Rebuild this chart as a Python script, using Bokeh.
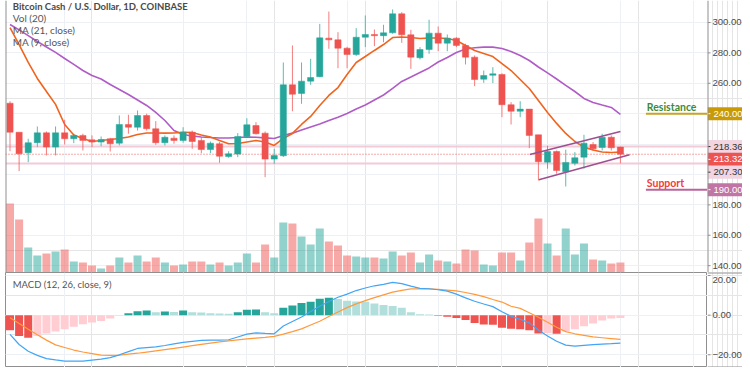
from bokeh.plotting import figure
from bokeh.layouts import column, row
from bokeh.models import Range1d, FixedTicker, Grid, Label, Span, ColumnDataSource
from bokeh.core.properties import value
from bokeh.embed import file_html
from bokeh.resources import INLINE

# ---------------- data ----------------
opens = [246.9, 227.8, 214.3, 220.9, 227.4, 218.0, 227.4, 223.5, 225.7, 222.8,
         221.3, 223.5, 220.6, 232.9, 231.1, 238.8, 230.1, 220.9, 223.9, 222.4,
         227.8, 222.4, 216.4, 220.2, 211.8, 213.4, 225.0, 232.2, 227.2, 210.1,
         212.3, 259.0, 253.3, 261.4, 264.3, 289.7, 288.6, 283.1, 278.9, 290.3,
         292.1, 291.3, 293.2, 305.7, 291.9, 276.8, 282.2, 293.0, 286.4, 289.7,
         284.9, 277.2, 262.7, 265.3, 265.8, 245.9, 241.6, 243.0, 226.1, 208.1,
         215.1, 201.8, 207.4, 211.4, 219.7, 217.8, 224.5, 218.0]
highs = [248.2, 227.8, 223.5, 231.6, 228.3, 231.6, 236.0, 226.8, 226.8, 225.7,
         225.0, 224.1, 238.8, 239.3, 242.1, 240.0, 235.1, 225.7, 225.7, 231.1,
         228.9, 224.5, 221.7, 221.3, 215.3, 227.2, 237.0, 234.4, 228.3, 216.9,
         273.7, 284.9, 273.7, 276.1, 299.1, 307.2, 293.6, 284.0, 296.3, 304.6,
         295.4, 298.5, 308.6, 306.8, 295.2, 283.8, 301.8, 297.4, 292.1, 290.3,
         286.0, 278.3, 268.4, 270.6, 266.6, 247.6, 248.2, 243.0, 226.1, 218.9,
         215.8, 216.3, 214.7, 226.1, 221.3, 226.8, 225.7, 218.36]
lows = [215.3, 202.2, 208.1, 218.0, 212.5, 212.5, 219.7, 220.6, 215.8, 218.0,
        218.6, 215.1, 219.1, 226.8, 228.9, 228.9, 219.5, 219.1, 220.2, 220.9,
        216.9, 214.0, 214.0, 207.7, 211.0, 211.4, 224.5, 226.3, 198.2, 207.0,
        211.5, 241.6, 246.5, 259.0, 264.0, 282.7, 269.9, 269.9, 278.0, 283.8,
        284.4, 287.0, 292.6, 286.6, 269.5, 275.7, 279.4, 281.1, 281.1, 283.8,
        272.4, 258.1, 260.3, 260.1, 237.7, 232.9, 237.7, 217.3, 196.0, 203.8,
        200.5, 192.1, 205.9, 203.8, 215.8, 215.8, 215.8, 207.30]
closes = [227.8, 213.6, 220.9, 227.4, 218.0, 227.4, 223.5, 225.7, 222.4, 221.3,
          223.0, 220.2, 232.9, 231.1, 238.8, 230.1, 220.9, 224.5, 222.4, 227.8,
          221.7, 216.4, 220.6, 212.0, 213.6, 225.0, 232.7, 226.8, 210.1, 212.5,
          259.0, 252.8, 261.4, 263.8, 289.9, 288.6, 283.1, 278.9, 290.3, 292.1,
          291.3, 293.2, 305.7, 291.9, 277.2, 282.2, 293.0, 286.4, 289.7, 284.9,
          277.2, 262.5, 265.1, 266.2, 245.9, 241.6, 243.0, 225.7, 208.4, 215.1,
          202.6, 207.9, 211.0, 220.6, 216.9, 224.5, 217.6, 213.32]
volumes = [69, 53, 25, 17, 19, 21, 23, 11, 10, 7,
           4, 7, 15, 10, 17, 11, 15, 10, 7, 8,
           11, 11, 8, 10, 7, 10, 19, 10, 28, 15,
           50, 49, 36, 28, 44, 31, 27, 17, 16, 15,
           15, 14, 21, 17, 20, 10, 18, 12, 11, 9,
           23, 22, 8, 7, 20, 20, 12, 30, 54, 29,
           17, 44, 18, 29, 13, 12, 9, 10]
ma9 = [296.7, 285.5, 273.7, 263.2, 254.6, 246.1, 232.9, 226.0, 223.7, 221.7,
       222.4, 223.0, 223.7, 224.7, 226.3, 227.3, 227.3, 227.2, 227.3, 227.8,
       227.6, 226.0, 224.7, 222.4, 220.2, 220.4, 221.4, 222.4, 221.4, 219.1,
       223.7, 227.0, 232.9, 238.2, 245.4, 252.0, 257.2, 265.8, 273.7, 277.6,
       281.6, 285.5, 290.1, 290.5, 290.1, 289.5, 289.8, 289.8, 289.5, 288.2,
       284.9, 281.6, 279.6, 277.6, 273.0, 268.4, 262.5, 256.6, 248.7, 240.8,
       233.6, 227.0, 221.7, 218.0, 216.1, 214.8, 214.5, 214.8]
ma21 = [298.7, 295.1, 291.4, 287.5, 283.9, 280.3, 276.3, 272.4, 268.4, 265.1,
        262.8, 259.2, 255.9, 252.6, 249.0, 245.4, 240.8, 235.5, 228.9, 226.3,
        225.3, 224.7, 224.3, 224.0, 224.0, 224.3, 224.7, 224.5, 224.1, 223.7,
        225.7, 227.2, 229.3, 231.3, 233.2, 235.5, 237.7, 240.1, 243.1, 245.7,
        249.0, 252.3, 256.6, 261.2, 264.1, 267.1, 270.1, 274.0, 277.0, 280.3,
        282.6, 283.4, 283.8, 283.8, 282.9, 280.9, 278.3, 275.0, 270.7, 266.8,
        262.8, 258.6, 254.6, 250.0, 247.4, 245.7, 244.1, 239.5]
macd_line = [-9.7, -14.8, -18.2, -20.3, -21.9, -22.6, -23.2, -23.2, -23.2, -22.7,
             -22.2, -21.4, -20.0, -18.4, -16.8, -16.4, -16.0, -15.3, -14.5, -13.7,
             -13.2, -12.7, -12.6, -12.6, -12.4, -11.0, -9.6, -8.9, -9.2, -9.4,
             -5.5, -3.2, -0.9, 1.8, 4.5, 6.9, 9.0, 10.6, 12.4, 13.7,
             14.8, 15.5, 16.5, 15.9, 14.6, 13.5, 13.3, 12.8, 12.1, 10.6,
             8.7, 7.0, 5.6, 4.3, 1.7, -0.6, -2.1, -3.9, -7.5, -10.5,
             -13.2, -15.1, -15.6, -15.2, -14.9, -14.6, -14.4, -14.1]
signal_line = [-1.3, -4.2, -7.1, -9.9, -12.6, -15.0, -16.3, -17.6, -18.6, -19.4,
               -20.2, -20.3, -20.2, -19.7, -19.2, -18.6, -18.0, -17.4, -16.8, -16.1,
               -15.4, -14.7, -14.1, -13.5, -13.0, -12.5, -12.0, -11.6, -11.2, -10.7,
               -9.6, -8.3, -6.9, -5.0, -3.1, -0.7, 1.6, 3.8, 5.7, 7.3,
               8.8, 10.2, 11.6, 12.5, 13.2, 13.2, 13.2, 13.0, 12.6, 12.2,
               11.4, 10.5, 9.3, 7.9, 6.6, 4.5, 3.4, 1.2, -1.1, -3.6,
               -6.1, -8.3, -9.4, -10.2, -11.0, -11.4, -11.8, -12.2]
macd_hist = [-7.6, -10.5, -11.4, -10.5, -9.3, -8.3, -7.1, -5.9, -4.6, -3.7,
             -2.9, -1.7, -0.3, 0.9, 2.0, 2.4, 1.5, 1.8, 1.6, 2.4,
             1.4, 1.3, 1.0, 0.8, 0.7, 1.4, 2.7, 2.8, 1.4, 1.0,
             3.7, 4.9, 6.1, 6.8, 8.3, 8.8, 8.1, 7.3, 6.9, 6.8,
             5.9, 5.1, 4.6, 3.7, 1.4, 0.5, 0.3, -0.3, -0.8, -1.4,
             -2.5, -3.9, -4.7, -4.8, -6.4, -6.8, -7.1, -7.6, -9.3, -9.0,
             -9.4, -8.1, -7.1, -5.6, -4.2, -2.7, -1.7, -1.4]

date_ticks = [7, 20, 27, 38, 48, 55, 68, 76]
price_grid_ticks = [140, 160, 180, 200, 220, 240, 260, 280, 300]
price_axis_ticks = [140, 160, 180, 260, 280, 300]
macd_ticks = [-20, 0, 20]

last_high = 218.36
last_close = 213.32
last_low = 207.30
resistance = 240.0
support = 190.0
channel_upper_x = [58.06, 68.0]
channel_upper_y = [213.2, 228.3]
channel_lower_x = [59.05, 69.0]
channel_lower_y = [196.5, 213.0]

# ---------------- styling ----------------
GREEN = "#26a69a"
RED = "#ef5350"
GRID = "#edf1f6"
AXIS = "#8f8f8f"
LABEL_FONT = "Liberation Sans"
TEXT_FONT = "Lato"
AX_W = 35            # width of the price-scale strip
P_H, M_H = 272, 95   # pane heights

n = len(closes)
xs = list(range(1, n + 1))
colors = [GREEN if c >= o else RED for o, c in zip(opens, closes)]
src = ColumnDataSource(dict(
    x=xs, o=opens, h=highs, l=lows, c=closes,
    top=[max(o, c) for o, c in zip(opens, closes)],
    bottom=[min(o, c) for o, c in zip(opens, closes)],
    color=colors, vol=volumes, ma9=ma9, ma21=ma21,
))

hist_colors = []
prev = 0.0
for v in macd_hist:
    if v >= 0:
        hist_colors.append("#26a69a" if v > prev else "#b2dfdb")
    else:
        hist_colors.append("#ef5350" if v < prev else "#ffcdd2")
    prev = v
msrc = ColumnDataSource(dict(x=xs, m=macd_line, s=signal_line, h=macd_hist, color=hist_colors))

X_START, X_END = 0.506, 77.56
x_range = Range1d(X_START, X_END)
price_range = Range1d(135.5, 314.47)
macd_range = Range1d(-26.4, 21.5)


def base_fig(w, h, xr, yr, **kw):
    f = figure(width=w, height=h, x_range=xr, y_range=yr, output_backend="svg",
               toolbar_location=None, x_axis_location=None, y_axis_location=None,
               min_border_left=0, min_border_right=0, min_border_top=0, min_border_bottom=0,
               background_fill_color="white", border_fill_color="white", **kw)
    return f


# ---------------- price pane ----------------
p = base_fig(707, P_H, x_range, price_range, outline_line_color=None)
p.min_border_left = 5
p.add_layout(Grid(dimension=1, ticker=FixedTicker(ticks=price_grid_ticks), grid_line_color=GRID))
p.add_layout(Grid(dimension=0, ticker=FixedTicker(ticks=date_ticks), grid_line_color=GRID))
p.add_layout(Span(location=X_START, dimension="height", line_color=AXIS, line_width=2))

p.extra_y_ranges = {"vol": Range1d(0, P_H)}
p.vbar(x="x", width=0.88, top="vol", bottom=0, y_range_name="vol", source=src,
       fill_color="color", fill_alpha=0.5, line_color=None)

for lvl in (last_high, last_low):
    p.add_layout(Span(location=lvl, dimension="width", line_color="#f5cad7",
                      line_width=2, level="underlay"))
p.add_layout(Span(location=last_close, dimension="width", line_color=RED,
                  line_width=1, line_dash="1 2", level="underlay"))

p.line("x", "ma21", source=src, line_color="#b05cc6", line_width=1.6)
p.line("x", "ma9", source=src, line_color="#f0641e", line_width=1.6)

p.segment(x0="x", y0="h", x1="x", y1="l", source=src, line_color="color",
          line_width=1, line_alpha=0.75)
p.vbar(x="x", width=0.68, top="top", bottom="bottom", source=src,
       fill_color="color", line_color="color", line_width=0.5)

p.segment(x0=[channel_upper_x[0], channel_lower_x[0]], y0=[channel_upper_y[0], channel_lower_y[0]],
          x1=[channel_upper_x[1], channel_lower_x[1]], y1=[channel_upper_y[1], channel_lower_y[1]],
          line_color="#9e4f8f", line_width=1.6)

p.segment(x0=[70.8], y0=[resistance], x1=[X_END], y1=[resistance], line_color="#c9a227", line_width=2)
p.segment(x0=[70.8], y0=[support], x1=[X_END], y1=[support], line_color="#b8659c", line_width=2)
p.add_layout(Label(x=70.9, y=244.1, text="Resistance", text_font=TEXT_FONT, text_font_size="10.5px",
                   text_font_style="bold", text_color="#3f8a35", text_baseline="middle"))
p.add_layout(Label(x=70.9, y=194.1, text="Support", text_font=TEXT_FONT, text_font_size="10.5px",
                   text_font_style="bold", text_color="#f23b3b", text_baseline="middle"))

p.add_layout(Label(x=1.3, y=310.5, text="Bitcoin Cash / U.S. Dollar, 1D, COINBASE", text_font=TEXT_FONT,
                   text_font_size="9.5px", text_font_style="bold", text_color="#4a4a4a",
                   text_baseline="middle"))
for yy, t in ((303.0, "Vol (20)"), (295.1, "MA (21, close)"), (287.2, "MA (9, close)")):
    p.add_layout(Label(x=1.3, y=yy, text=t, text_font=TEXT_FONT, text_font_size="10px",
                       text_color="#555555", text_baseline="middle"))

# ---------------- price scale strip ----------------
s1 = base_fig(AX_W, P_H, Range1d(0, AX_W), price_range, outline_line_color=None)
s1.add_layout(Span(location=0, dimension="height", line_color=AXIS, line_width=2))
s1.segment(x0=[0] * len(price_axis_ticks), x1=[3] * len(price_axis_ticks),
           y0=price_axis_ticks, y1=price_axis_ticks, line_color=AXIS, line_width=1)
s1.text(x=[5] * len(price_axis_ticks), y=price_axis_ticks,
        text=["%.2f" % v for v in price_axis_ticks], text_font=value(LABEL_FONT),
        text_font_size="9.5px", text_color="#4a4a4a", text_baseline="middle")

PX_PER_UNIT = P_H / (price_range.end - price_range.start)
TAG_GAP = 12.8 / PX_PER_UNIT
tag_values = [resistance, last_high, last_close, last_low, support]
tag_fill = ["#c99a06", "#f2d5e0", RED, "#f2d5e0", "#c274a4"]
tag_text_color = ["white", "#333333", "white", "#333333", "white"]
tag_y = []
for v in tag_values:
    tag_y.append(v if not tag_y else min(v, tag_y[-1] - TAG_GAP))
tsrc = ColumnDataSource(dict(y=tag_y, fill=tag_fill, tc=tag_text_color,
                             label=["%.2f" % v for v in tag_values]))
s1.rect(x=AX_W / 2, y="y", width=AX_W, height=13, height_units="screen", source=tsrc,
        fill_color="fill", line_color=None)
s1.segment(x0=0, x1=3, y0="y", y1="y", source=tsrc, line_color="tc", line_width=1)
s1.text(x=6, y="y", text="label", source=tsrc, text_font=value(LABEL_FONT),
        text_font_size="9.5px", text_color="tc", text_baseline="middle")

# ---------------- MACD pane ----------------
q = base_fig(707, M_H, x_range, macd_range, outline_line_color=AXIS)
q.min_border_left = 5
q.add_layout(Grid(dimension=1, ticker=FixedTicker(ticks=macd_ticks), grid_line_color=GRID))
q.add_layout(Grid(dimension=0, ticker=FixedTicker(ticks=date_ticks), grid_line_color=GRID))
q.vbar(x="x", width=0.88, top="h", bottom=0, source=msrc, fill_color="color", line_color=None)
q.line("x", "s", source=msrc, line_color="#ff9a3c", line_width=1.2)
q.line("x", "m", source=msrc, line_color="#42a5f5", line_width=1.2)
q.add_layout(Label(x=1.3, y=15.4, text="MACD (12, 26, close, 9)", text_font=TEXT_FONT,
                   text_font_size="9.5px", text_color="#555555", text_baseline="middle"))

s2 = base_fig(AX_W, M_H, Range1d(0, AX_W), macd_range, outline_line_color=None)
s2.add_layout(Span(location=macd_range.end, dimension="width", line_color=AXIS, line_width=2))
s2.add_layout(Span(location=macd_range.start, dimension="width", line_color=AXIS, line_width=2))
s2.segment(x0=[0] * len(macd_ticks), x1=[3] * len(macd_ticks), y0=macd_ticks, y1=macd_ticks,
           line_color=AXIS, line_width=1)
M_PX_PER_UNIT = M_H / (macd_range.end - macd_range.start)
macd_label_y = [min(v, macd_range.end - 7.5 / M_PX_PER_UNIT) for v in macd_ticks]
s2.text(x=[5] * len(macd_ticks), y=macd_label_y,
        text=[("%.2f" % v).replace("-", "\u2212") for v in macd_ticks], text_font=value(LABEL_FONT),
        text_font_size="9.5px", text_color="#4a4a4a", text_baseline="middle")

layout = row(column(p, q, spacing=0), column(s1, s2, spacing=0), spacing=0)
open("out.html", "w").write(file_html(layout, INLINE))
